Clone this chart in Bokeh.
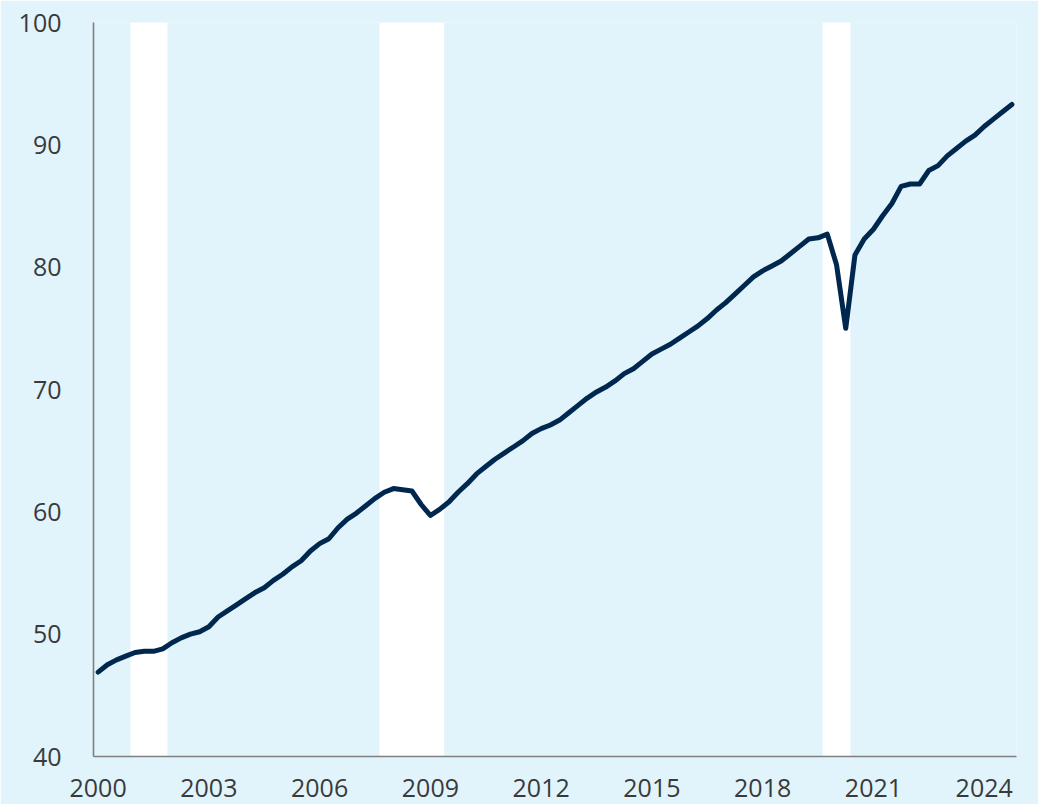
from bokeh.plotting import figure
from bokeh.models import Range1d, FixedTicker
from bokeh.embed import file_html
from bokeh.resources import INLINE

# Quarterly index, 2000Q1 .. 2024Q4 (quarter positions 0..99)
values = [
    46.9, 47.5, 47.9, 48.2, 48.5, 48.6, 48.6, 48.8, 49.3, 49.7,
    50.0, 50.2, 50.6, 51.4, 51.9, 52.4, 52.9, 53.4, 53.8, 54.4,
    54.9, 55.5, 56.0, 56.8, 57.4, 57.8, 58.7, 59.4, 59.9, 60.5,
    61.1, 61.6, 61.9, 61.8, 61.7, 60.6, 59.7, 60.2, 60.8, 61.6,
    62.3, 63.1, 63.7, 64.3, 64.8, 65.3, 65.8, 66.4, 66.8, 67.1,
    67.5, 68.1, 68.7, 69.3, 69.8, 70.2, 70.7, 71.3, 71.7, 72.3,
    72.9, 73.3, 73.7, 74.2, 74.7, 75.2, 75.8, 76.5, 77.1, 77.8,
    78.5, 79.2, 79.7, 80.1, 80.5, 81.1, 81.7, 82.3, 82.4, 82.7,
    80.2, 75.0, 81.0, 82.3, 83.1, 84.2, 85.2, 86.6, 86.8, 86.8,
    87.9, 88.3, 89.1, 89.7, 90.3, 90.8, 91.5, 92.1, 92.7, 93.3,
]
quarters = list(range(len(values)))

# Recession shading (first and last quarter index of each band)
rec_start = [4, 31, 79]
rec_end = [7, 37, 81]

tick_pos = [0, 12, 24, 36, 48, 60, 72, 84, 96]
tick_labels = ["2000", "2003", "2006", "2009", "2012", "2015", "2018", "2021", "2024"]
y_ticks = [40, 50, 60, 70, 80, 90, 100]

BG = "#e1f4fc"
FONT = "Open Sans"

p = figure(width=1038, height=804, output_backend="svg", toolbar_location=None,
           x_range=Range1d(-0.5, 99.5), y_range=Range1d(40, 100),
           min_border_left=93, min_border_right=22, min_border_top=22, min_border_bottom=48)
p.background_fill_color = BG
p.border_fill_color = BG
p.outline_line_color = None
p.xgrid.visible = False
p.ygrid.visible = False

p.quad(left=[s - 0.5 for s in rec_start], right=[e + 0.5 for e in rec_end],
       bottom=[40] * len(rec_start), top=[100] * len(rec_start),
       fill_color="white", line_color=None)

p.line(quarters, values, line_color="#00284f", line_width=5,
       line_join="round", line_cap="round")

for ax in (p.xaxis[0], p.yaxis[0]):
    ax.axis_line_color = "#7f7f7f"
    ax.axis_line_width = 1.6
    ax.major_tick_line_color = None
    ax.minor_tick_line_color = None
    ax.major_label_text_font = FONT
    ax.major_label_text_font_size = "25px"
    ax.major_label_text_color = "#3a3a3a"

p.xaxis.ticker = FixedTicker(ticks=tick_pos)
p.xaxis.major_label_overrides = {t: l for t, l in zip(tick_pos, tick_labels)}
p.xaxis.major_label_standoff = 16
p.yaxis.ticker = FixedTicker(ticks=y_ticks)
p.yaxis.major_label_standoff = 26

html = file_html(p, INLINE)
html = html.replace("<body>", '<body style="background:%s">' % BG, 1)
open("out.html", "w").write(html)
